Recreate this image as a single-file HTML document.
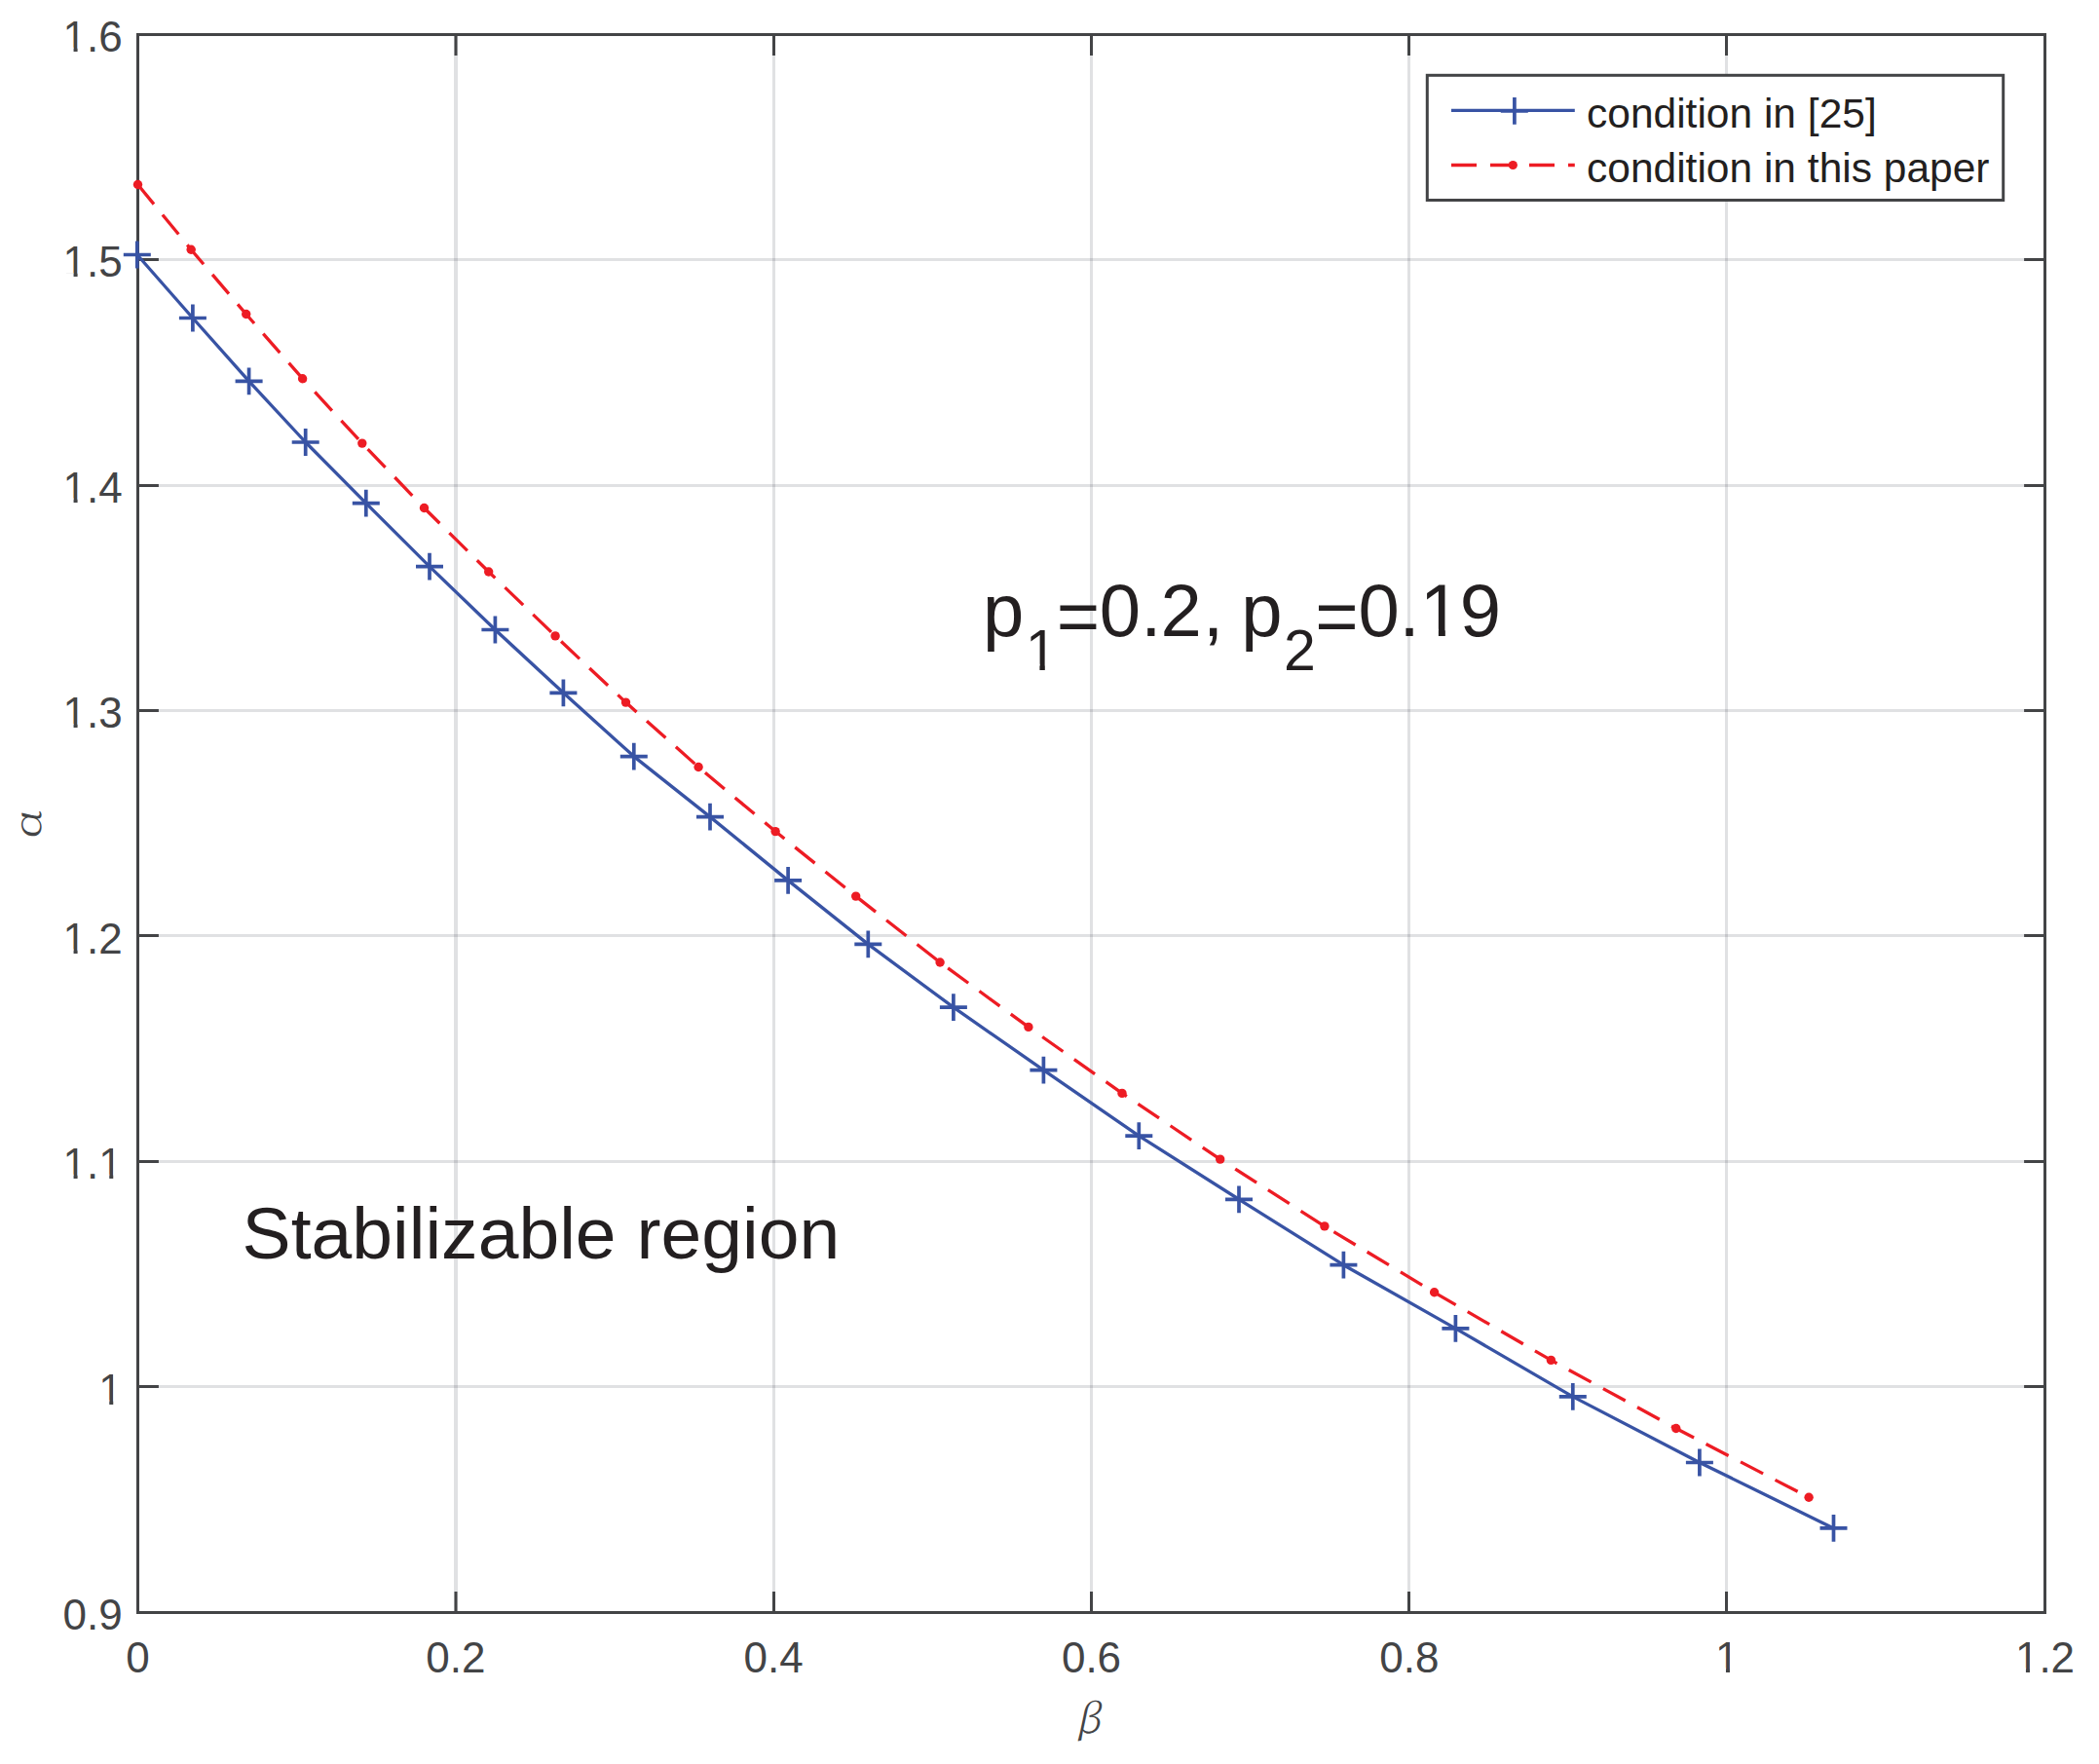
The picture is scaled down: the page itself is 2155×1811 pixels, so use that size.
<!DOCTYPE html>
<html lang="en"><head><meta charset="utf-8"><title>Stabilizable region</title>
<style>html,body{margin:0;padding:0;background:#fff;}svg{display:block;}text{font-family:"Liberation Sans",sans-serif;}</style></head><body>
<svg width="2155" height="1811" viewBox="0 0 2155 1811">
<rect width="2155" height="1811" fill="#fff"/>
<path d="M468.0 35.5V1655.5" stroke="#0c1424" stroke-opacity="0.13" stroke-width="4" fill="none"/>
<path d="M794.5 35.5V1655.5M1120.5 35.5V1655.5M1446.5 35.5V1655.5M1772.5 35.5V1655.5" stroke="#0c1424" stroke-opacity="0.13" stroke-width="3" fill="none"/>
<path d="M141.5 1423.5H2099.5M141.5 1192.5H2099.5M141.5 960.5H2099.5M141.5 729.5H2099.5M141.5 498.5H2099.5M141.5 266.5H2099.5" stroke="#0c1424" stroke-opacity="0.13" stroke-width="3" fill="none"/>
<path d="M468.0 1655.5v-21.4M468.0 35.5v21.4M794.5 1655.5v-21.4M794.5 35.5v21.4M1120.5 1655.5v-21.4M1120.5 35.5v21.4M1446.5 1655.5v-21.4M1446.5 35.5v21.4M1772.5 1655.5v-21.4M1772.5 35.5v21.4M141.5 1423.5h21.4M2099.5 1423.5h-21.4M141.5 1192.5h21.4M2099.5 1192.5h-21.4M141.5 960.5h21.4M2099.5 960.5h-21.4M141.5 729.5h21.4M2099.5 729.5h-21.4M141.5 498.5h21.4M2099.5 498.5h-21.4M141.5 266.5h21.4M2099.5 266.5h-21.4" stroke="#434446" stroke-width="3" fill="none"/>
<rect x="141.5" y="35.5" width="1958.0" height="1620.0" fill="none" stroke="#434446" stroke-width="3"/>
<text x="129.26" y="1716.70" font-size="44" fill="#434446">0</text>
<text x="437.25" y="1716.70" font-size="44" fill="#434446">0.2</text>
<text x="763.58" y="1716.70" font-size="44" fill="#434446">0.4</text>
<text x="1089.92" y="1716.70" font-size="44" fill="#434446">0.6</text>
<text x="1416.25" y="1716.70" font-size="44" fill="#434446">0.8</text>
<clipPath id="c1"><path d="M1764.15 1672.70H1775.97V1729.90H1771.95V1712.40H1764.15Z"/></clipPath>
<text x="1760.93" y="1716.70" font-size="44" fill="#434446" clip-path="url(#c1)" style="font-kerning:none">1</text>
<clipPath id="c2"><path d="M2072.14 1672.70H2083.96V1729.90H2079.94V1712.40H2072.14ZM2093.39 1672.70h12.22V1729.90h-12.22ZM2105.61 1672.70h24.47V1729.90h-24.47Z"/></clipPath>
<text x="2068.92" y="1716.70" font-size="44" fill="#434446" clip-path="url(#c2)" style="font-kerning:none">1.2</text>
<text x="64.53" y="1673.00" font-size="44" fill="#434446">0.9</text>
<clipPath id="c3"><path d="M104.45 1397.57H116.27V1454.77H112.25V1437.27H104.45Z"/></clipPath>
<text x="101.23" y="1441.57" font-size="44" fill="#434446" clip-path="url(#c3)" style="font-kerning:none">1</text>
<clipPath id="c4"><path d="M67.76 1166.14H79.57V1223.34H75.56V1205.85H67.76ZM89.00 1166.14h12.22V1223.34h-12.22ZM104.45 1166.14H116.27V1223.34H112.25V1205.85H104.45Z"/></clipPath>
<text x="64.53" y="1210.14" font-size="44" fill="#434446" clip-path="url(#c4)" style="font-kerning:none">1.1</text>
<clipPath id="c5"><path d="M67.76 934.71H79.57V991.91H75.56V974.42H67.76ZM89.00 934.71h12.22V991.91h-12.22ZM101.23 934.71h24.47V991.91h-24.47Z"/></clipPath>
<text x="64.53" y="978.71" font-size="44" fill="#434446" clip-path="url(#c5)" style="font-kerning:none">1.2</text>
<clipPath id="c6"><path d="M67.76 703.29H79.57V760.49H75.56V742.99H67.76ZM89.00 703.29h12.22V760.49h-12.22ZM101.23 703.29h24.47V760.49h-24.47Z"/></clipPath>
<text x="64.53" y="747.29" font-size="44" fill="#434446" clip-path="url(#c6)" style="font-kerning:none">1.3</text>
<clipPath id="c7"><path d="M67.76 471.86H79.57V529.06H75.56V511.56H67.76ZM89.00 471.86h12.22V529.06h-12.22ZM101.23 471.86h24.47V529.06h-24.47Z"/></clipPath>
<text x="64.53" y="515.86" font-size="44" fill="#434446" clip-path="url(#c7)" style="font-kerning:none">1.4</text>
<clipPath id="c8"><path d="M67.76 240.43H79.57V297.63H75.56V280.13H67.76ZM89.00 240.43h12.22V297.63h-12.22ZM101.23 240.43h24.47V297.63h-24.47Z"/></clipPath>
<text x="64.53" y="284.43" font-size="44" fill="#434446" clip-path="url(#c8)" style="font-kerning:none">1.5</text>
<clipPath id="c9"><path d="M67.76 9.00H79.57V66.20H75.56V48.70H67.76ZM89.00 9.00h12.22V66.20h-12.22ZM101.23 9.00h24.47V66.20h-24.47Z"/></clipPath>
<text x="64.53" y="53.00" font-size="44" fill="#434446" clip-path="url(#c9)" style="font-kerning:none">1.6</text>
<text transform="translate(1104.3 1778.8) skewX(-12)" font-size="41.5" fill="#434446" style="font-family:'Noto Serif CJK SC','Liberation Serif',serif;font-weight:300">β</text>
<text transform="translate(41.5 861.5) rotate(-90) skewX(-5) scale(1.29 1)" font-size="38" fill="#434446" style="font-family:'Noto Serif CJK SC','Liberation Serif',serif;font-weight:300">α</text>
<path d="M140.8 261.5L197.9 326.5L255.6 391.3L313.7 454.0L375.8 516.6L441.0 581.7L508.4 646.5L578.4 711.3L650.8 776.6L729.0 838.6L809.1 903.9L891.3 969.4L978.9 1034.2L1071.4 1098.7L1169.3 1166.1L1272.0 1231.3L1379.4 1298.7L1494.4 1363.9L1614.8 1433.9L1744.9 1501.5L1882.5 1568.9" stroke="#3853a4" stroke-width="3.3" fill="none" stroke-linejoin="round"/>
<path d="M126.8 261.5h28M140.8 247.6v27.8M183.9 326.5h28M197.9 312.6v27.8M241.6 391.3h28M255.6 377.4v27.8M299.7 454.0h28M313.7 440.1v27.8M361.8 516.6h28M375.8 502.7v27.8M427.0 581.7h28M441.0 567.8v27.8M494.4 646.5h28M508.4 632.6v27.8M564.4 711.3h28M578.4 697.4v27.8M636.8 776.6h28M650.8 762.7v27.8M715.0 838.6h28M729.0 824.7v27.8M795.1 903.9h28M809.1 890.0v27.8M877.3 969.4h28M891.3 955.5v27.8M964.9 1034.2h28M978.9 1020.3v27.8M1057.4 1098.7h28M1071.4 1084.8v27.8M1155.3 1166.1h28M1169.3 1152.2v27.8M1258.0 1231.3h28M1272.0 1217.4v27.8M1365.4 1298.7h28M1379.4 1284.8v27.8M1480.4 1363.9h28M1494.4 1350.0v27.8M1600.8 1433.9h28M1614.8 1420.0v27.8M1730.9 1501.5h28M1744.9 1487.6v27.8M1868.5 1568.9h28M1882.5 1555.0v27.8" stroke="#3853a4" stroke-width="3.7" fill="none"/>
<path d="M141.5 189.5L196.2 256.2L252.7 322.5L310.6 388.7L371.8 455.1L435.5 521.5L501.7 587.0L570.1 652.9L642.5 721.1L717.1 787.5L796.1 853.6L878.7 920.1L965.1 988.0L1055.9 1054.4L1152.0 1122.4L1252.7 1190.1L1359.9 1258.9L1472.6 1326.8L1592.4 1396.4L1720.8 1466.5L1857.1 1537.3" stroke="#ed1c24" stroke-width="3.3" fill="none" stroke-dasharray="26 14"/>
<circle cx="141.5" cy="189.5" r="4.7" fill="#ed1c24"/>
<circle cx="196.2" cy="256.2" r="4.7" fill="#ed1c24"/>
<circle cx="252.7" cy="322.5" r="4.7" fill="#ed1c24"/>
<circle cx="310.6" cy="388.7" r="4.7" fill="#ed1c24"/>
<circle cx="371.8" cy="455.1" r="4.7" fill="#ed1c24"/>
<circle cx="435.5" cy="521.5" r="4.7" fill="#ed1c24"/>
<circle cx="501.7" cy="587.0" r="4.7" fill="#ed1c24"/>
<circle cx="570.1" cy="652.9" r="4.7" fill="#ed1c24"/>
<circle cx="642.5" cy="721.1" r="4.7" fill="#ed1c24"/>
<circle cx="717.1" cy="787.5" r="4.7" fill="#ed1c24"/>
<circle cx="796.1" cy="853.6" r="4.7" fill="#ed1c24"/>
<circle cx="878.7" cy="920.1" r="4.7" fill="#ed1c24"/>
<circle cx="965.1" cy="988.0" r="4.7" fill="#ed1c24"/>
<circle cx="1055.9" cy="1054.4" r="4.7" fill="#ed1c24"/>
<circle cx="1152.0" cy="1122.4" r="4.7" fill="#ed1c24"/>
<circle cx="1252.7" cy="1190.1" r="4.7" fill="#ed1c24"/>
<circle cx="1359.9" cy="1258.9" r="4.7" fill="#ed1c24"/>
<circle cx="1472.6" cy="1326.8" r="4.7" fill="#ed1c24"/>
<circle cx="1592.4" cy="1396.4" r="4.7" fill="#ed1c24"/>
<circle cx="1720.8" cy="1466.5" r="4.7" fill="#ed1c24"/>
<circle cx="1857.1" cy="1537.3" r="4.7" fill="#ed1c24"/>
<text x="248.6" y="1292.3" font-size="75" fill="#231f20" textLength="613.6" lengthAdjust="spacingAndGlyphs">Stabilizable region</text>
<clipPath id="c10"><path d="M1009.01 577.20h42.27V676.00h-42.27ZM1056.96 628.60H1072.80V705.30H1067.42V681.84H1056.96ZM1084.83 582.70h44.38V681.50h-44.38ZM1128.77 577.20h42.27V676.00h-42.27ZM1171.24 577.20h21.12V676.00h-21.12ZM1191.42 577.20h42.27V676.00h-42.27ZM1234.89 577.20h21.12V676.00h-21.12ZM1274.16 577.20h42.27V676.00h-42.27ZM1318.04 628.60h32.81V705.30h-32.81ZM1350.13 582.70h44.38V681.50h-44.38ZM1394.62 577.20h42.27V676.00h-42.27ZM1436.54 577.20h21.12V676.00h-21.12ZM1463.40 577.20H1483.81V676.00H1476.87V645.78H1463.40ZM1498.83 577.20h42.27V676.00h-42.27Z"/></clipPath>
<text fill="#231f20" clip-path="url(#c10)" style="font-kerning:none"><tspan x="1009.01" y="653.20" font-size="76">p</tspan><tspan x="1052.64" y="687.60" font-size="59">1</tspan><tspan x="1084.83" y="658.70" font-size="76">=</tspan><tspan x="1128.77" y="653.20" font-size="76">0</tspan><tspan x="1171.24" y="653.20" font-size="76">.</tspan><tspan x="1191.42" y="653.20" font-size="76">2</tspan><tspan x="1234.89" y="653.20" font-size="76">,</tspan><tspan font-size="76"> </tspan><tspan x="1274.16" y="653.20" font-size="76">p</tspan><tspan x="1318.04" y="687.60" font-size="59">2</tspan><tspan x="1350.13" y="658.70" font-size="76">=</tspan><tspan x="1394.62" y="653.20" font-size="76">0</tspan><tspan x="1436.54" y="653.20" font-size="76">.</tspan><tspan x="1457.83" y="653.20" font-size="76">1</tspan><tspan x="1498.83" y="653.20" font-size="76">9</tspan></text>
<rect x="1465.3" y="77.3" width="591.4" height="128.2" fill="#fff" stroke="#434446" stroke-width="3"/>
<path d="M1490 113.3H1616.8" stroke="#3853a4" stroke-width="3.3" fill="none"/>
<path d="M1540.8 114h28M1554.9 100v27.7" stroke="#3853a4" stroke-width="3.7" fill="none"/>
<path d="M1490 169.5H1616.8" stroke="#ed1c24" stroke-width="3.3" fill="none" stroke-dasharray="26 14"/>
<circle cx="1553.3" cy="169.5" r="4.6" fill="#ed1c24"/>
<text x="1629" y="130.8" font-size="42.5" fill="#231f20">condition in [25]</text>
<text x="1629" y="186.8" font-size="42.5" fill="#231f20">condition in this paper</text>
</svg></body></html>
